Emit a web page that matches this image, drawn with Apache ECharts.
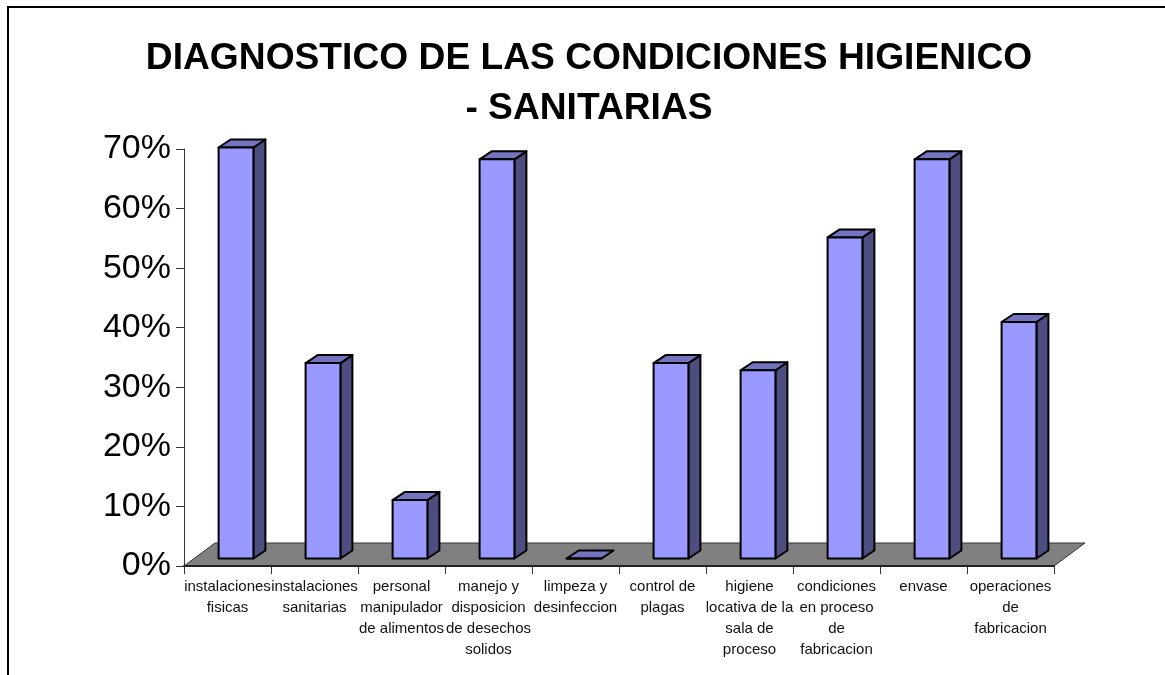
<!DOCTYPE html>
<html>
<head>
<meta charset="utf-8">
<style>
html, body { margin: 0; padding: 0; background: #fff; }
#main { width: 1165px; height: 675px; }
</style>
<script src="https://cdn.jsdelivr.net/npm/echarts@6/dist/echarts.min.js"></script>
</head>
<body>
<div id="main"></div>
<script>
var categories = [
    'instalaciones\nfisicas',
    'instalaciones\nsanitarias',
    'personal\nmanipulador\nde alimentos',
    'manejo y\ndisposicion\nde desechos\nsolidos',
    'limpeza y\ndesinfeccion',
    'control de\nplagas',
    'higiene\nlocativa de la\nsala de\nproceso',
    'condiciones\nen proceso\nde\nfabricacion',
    'envase',
    'operaciones\nde\nfabricacion'
];
var values = [69, 32.8, 9.8, 67, 0, 32.8, 31.6, 53.9, 67, 39.7];
var titleText = 'DIAGNOSTICO DE LAS CONDICIONES HIGIENICO\n- SANITARIAS';

// fake 3d look, excel style
var floorDx = 31, floorDy = 23;
var barDx = 8.5, barDy = 7.5, sideDx = 12, sideDy = 8;

function renderFloor(params) {
    var c = params.coordSys;
    var b = c.y + c.height;
    return {
        type: 'polygon',
        shape: { points: [[c.x, b], [c.x + floorDx, b - floorDy], [c.x + c.width + floorDx, b - floorDy], [c.x + c.width, b]] },
        style: { fill: '#808080', stroke: '#333', lineWidth: 1 }
    };
}

function renderBar(params, api) {
    var top = api.coord([api.value(0), api.value(1)]);
    var base = api.coord([api.value(0), 0]);
    var w = api.size([1, 0])[0] * 0.4;
    var x0 = top[0] - w / 2 + barDx;
    var x1 = x0 + w;
    var y0 = top[1] - barDy;
    var y1 = base[1] - barDy;
    var line = { stroke: '#000', lineWidth: 2, lineJoin: 'round' };
    function face(points, fill) {
        return { type: 'polygon', shape: { points: points }, style: Object.assign({ fill: fill }, line) };
    }
    return {
        type: 'group',
        children: [
            face([[x1, y1], [x1 + sideDx, y1 - sideDy], [x1 + sideDx, y0 - sideDy], [x1, y0]], '#4D4D80'),
            face([[x0, y0], [x0 + sideDx, y0 - sideDy], [x1 + sideDx, y0 - sideDy], [x1, y0]], '#7373BF'),
            face([[x0, y0], [x1, y0], [x1, y1], [x0, y1]], '#9999FF')
        ]
    };
}

var chart = echarts.init(document.getElementById('main'), null, { renderer: 'canvas' });
var option = {
    animation: false,
    backgroundColor: '#fff',
    title: {
        text: titleText,
        left: 584,
        top: 29,
        textAlign: 'center',
        textStyle: { fontFamily: 'Liberation Sans', fontSize: 37.2, fontWeight: 'bold', color: '#000', lineHeight: 50 }
    },
    graphic: [{
        type: 'polyline',
        shape: { points: [[8, 675], [8, 7], [1165, 7]] },
        style: { stroke: '#000', lineWidth: 2, fill: null }
    }],
    grid: { left: 184, top: 149, width: 870, height: 417 },
    xAxis: {
        type: 'category',
        data: categories,
        z: 5,
        axisLine: { lineStyle: { color: '#222', width: 2 } },
        axisTick: { show: true, length: 8, alignWithLabel: false, lineStyle: { color: '#333', width: 1 } },
        axisLabel: {
            interval: 0,
            margin: 10,
            hideOverlap: false,
            fontFamily: 'Liberation Sans',
            fontSize: 15,
            lineHeight: 21,
            color: '#111'
        }
    },
    yAxis: {
        type: 'value',
        min: 0,
        max: 70,
        interval: 10,
        splitLine: { show: false },
        axisLine: { show: true, lineStyle: { color: '#333', width: 1 } },
        axisTick: { show: true, length: 8, lineStyle: { color: '#333', width: 1 } },
        axisLabel: {
            formatter: '{value}%',
            margin: 13,
            padding: [4, 0, 0, 0],
            fontFamily: 'Liberation Sans',
            fontSize: 34,
            color: '#000'
        }
    },
    series: [
        { type: 'custom', silent: true, clip: false, z: 1, renderItem: renderFloor, data: [0] },
        {
            type: 'custom',
            silent: true,
            clip: false,
            z: 2,
            renderItem: renderBar,
            encode: { x: 0, y: 1 },
            data: values.map(function (v, i) { return [i, v]; })
        }
    ]
};
chart.setOption(option);
window.addEventListener('resize', function () { chart.resize(); });
</script>
</body>
</html>
